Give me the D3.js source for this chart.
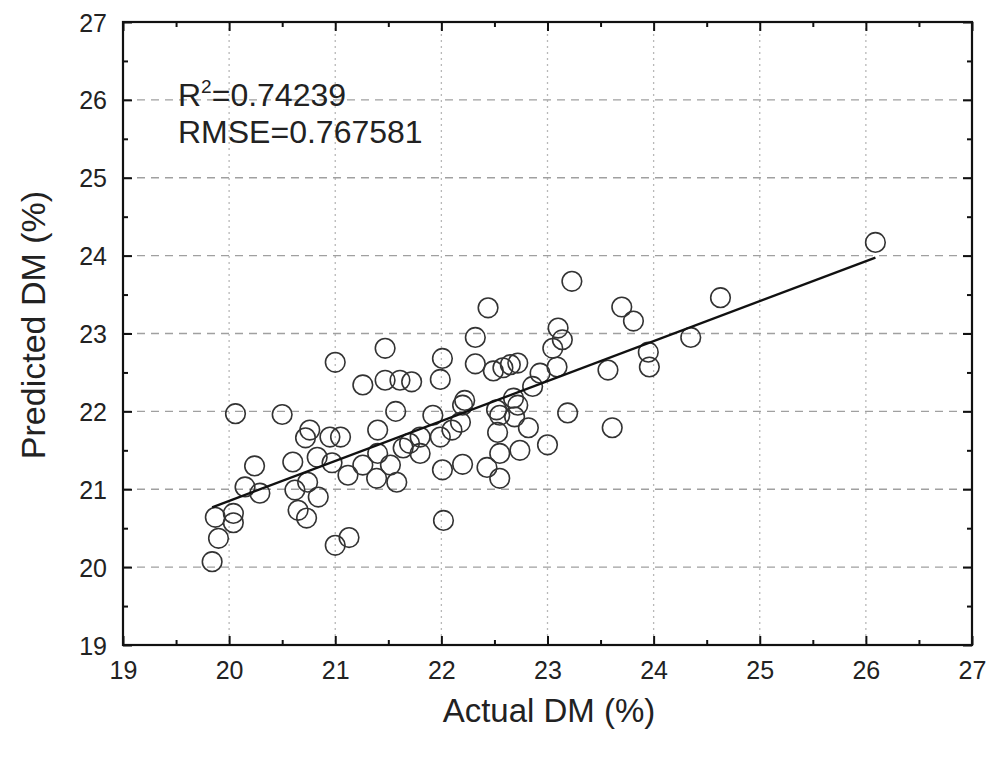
<!DOCTYPE html>
<html><head><meta charset="utf-8">
<script src="https://cdn.jsdelivr.net/npm/d3@7"></script>
<style>body{margin:0;background:#fff}svg{display:block}text{font-family:"Liberation Sans",Arial,sans-serif}</style>
</head><body>
<script>
const actualDM = [26.09,24.63,24.35,23.95,23.96,23.81,23.70,23.57,23.61,23.23,23.19,
23.10,23.14,23.05,22.93,23.09,22.86,22.22,22.20,22.68,22.72,22.52,22.55,22.69,21.92,22.18,22.10,21.99,21.80,21.70,21.64,21.80,22.53,22.82,23.00,22.74,22.55,22.01,22.20,22.43,22.55,
21.99,22.01,22.32,22.44,22.32,22.49,22.58,22.65,22.72,22.02,
21.00,21.26,21.47,21.47,21.61,21.72,21.57,21.40,20.97,21.12,21.26,21.40,21.52,21.39,21.58,
20.06,20.50,20.76,20.72,20.95,21.05,20.24,20.60,20.83,20.15,20.29,20.62,20.74,20.84,20.65,20.73,
19.87,20.04,20.04,19.90,19.84,21.00,21.13];
const predictedDM = [24.17,23.46,22.95,22.76,22.57,23.16,23.34,22.53,21.79,23.67,21.98,
23.07,22.92,22.81,22.49,22.57,22.32,22.14,22.08,22.17,22.08,22.02,21.95,21.93,21.95,21.86,21.76,21.67,21.67,21.59,21.53,21.46,21.73,21.79,21.57,21.50,21.46,21.25,21.32,21.28,21.14,
22.41,22.68,22.95,23.33,22.61,22.52,22.56,22.60,22.62,20.60,
22.63,22.34,22.81,22.40,22.40,22.38,22.00,21.76,21.34,21.18,21.31,21.46,21.31,21.14,21.09,
21.97,21.96,21.76,21.66,21.67,21.67,21.30,21.35,21.41,21.03,20.95,20.99,21.09,20.90,20.73,20.63,
20.64,20.69,20.57,20.37,20.07,20.28,20.38];
const fitSlope = 0.513, fitIntercept = 10.59;
const xTicks = [19,20,21,22,23,24,25,26,27];
const yTicks = [19,20,21,22,23,24,25,26,27];
const minorTicks = [19.5,20.5,21.5,22.5,23.5,24.5,25.5,26.5];
const statLines = ["R2=0.74239","RMSE=0.767581"];
const xTitle = "Actual DM (%)", yTitle = "Predicted DM (%)";

const W=988,H=757, L=123,R=972,T=22,B=645;
const svg=d3.select("body").append("svg").attr("width",W).attr("height",H);
const x=d3.scaleLinear().domain([19,27]).range([L,R]);
const y=d3.scaleLinear().domain([19,27]).range([B,T]);

// grid
svg.append("g").selectAll("line").data(xTicks.slice(1,-1)).join("line")
 .attr("x1",d=>x(d)).attr("x2",d=>x(d)).attr("y1",T).attr("y2",B)
 .attr("stroke","#b8b8b8").attr("stroke-width",1.3).attr("stroke-dasharray","2,4");
svg.append("g").selectAll("line").data(yTicks.slice(1,-1)).join("line")
 .attr("y1",d=>y(d)).attr("y2",d=>y(d)).attr("x1",L).attr("x2",R)
 .attr("stroke","#a0a0a0").attr("stroke-width",1.4).attr("stroke-dasharray","8,6");

// axes with inward ticks
const fmt=d3.format("d");
const ax=(gen,tr,vals,size,lbl)=>{const g=svg.append("g").attr("transform",tr).call(gen.tickValues(vals).tickSize(size).tickFormat(lbl?fmt:""));g.select(".domain").remove();g.selectAll("line").attr("stroke","#111").attr("stroke-width",2);return g;};
const bx=ax(d3.axisBottom(x),`translate(0,${B})`,xTicks,-9,true);
bx.selectAll("text").attr("font-size",25).attr("fill","#222").attr("y",34).attr("dy",0);
ax(d3.axisBottom(x),`translate(0,${B})`,minorTicks,-5,false);
ax(d3.axisTop(x),`translate(0,${T})`,xTicks,-9,false);
ax(d3.axisTop(x),`translate(0,${T})`,minorTicks,-5,false);
const ly=ax(d3.axisLeft(y),`translate(${L},0)`,yTicks,-9,true);
ly.selectAll("text").attr("font-size",25).attr("fill","#222").attr("x",-16).attr("dy","0.36em");
ax(d3.axisLeft(y),`translate(${L},0)`,minorTicks,-5,false);
ax(d3.axisRight(y),`translate(${R},0)`,yTicks,-9,false);
ax(d3.axisRight(y),`translate(${R},0)`,minorTicks,-5,false);
svg.append("rect").attr("x",L).attr("y",T).attr("width",R-L).attr("height",B-T)
 .attr("fill","none").attr("stroke","#111").attr("stroke-width",2.2);

// points
svg.append("g").selectAll("circle").data(actualDM.map((v,i)=>[v,predictedDM[i]])).join("circle")
 .attr("cx",d=>x(d[0])).attr("cy",d=>y(d[1])).attr("r",9.8)
 .attr("fill","none").attr("stroke","#333").attr("stroke-width",1.6);

// fit line
const ext=d3.extent(actualDM);
svg.append("line").attr("x1",x(ext[0])).attr("x2",x(ext[1]))
 .attr("y1",y(fitSlope*ext[0]+fitIntercept)).attr("y2",y(fitSlope*ext[1]+fitIntercept))
 .attr("stroke","#111").attr("stroke-width",2.4);

// stats
const t1=svg.append("text").attr("x",178).attr("y",106).attr("font-size",32).attr("fill","#222");
t1.append("tspan").text("R");
t1.append("tspan").text("2").attr("font-size",19).attr("dy",-13);
t1.append("tspan").text(statLines[0].slice(2)).attr("dy",13);
svg.append("text").attr("x",178).attr("y",143).attr("font-size",32).attr("fill","#222").text(statLines[1]);

svg.append("text").attr("x",549).attr("y",722).attr("text-anchor","middle").attr("font-size",33).attr("fill","#222").text(xTitle);
svg.append("text").attr("transform",`translate(45,325) rotate(-90)`).attr("text-anchor","middle").attr("font-size",34).attr("fill","#222").text(yTitle);
</script>
</body></html>
